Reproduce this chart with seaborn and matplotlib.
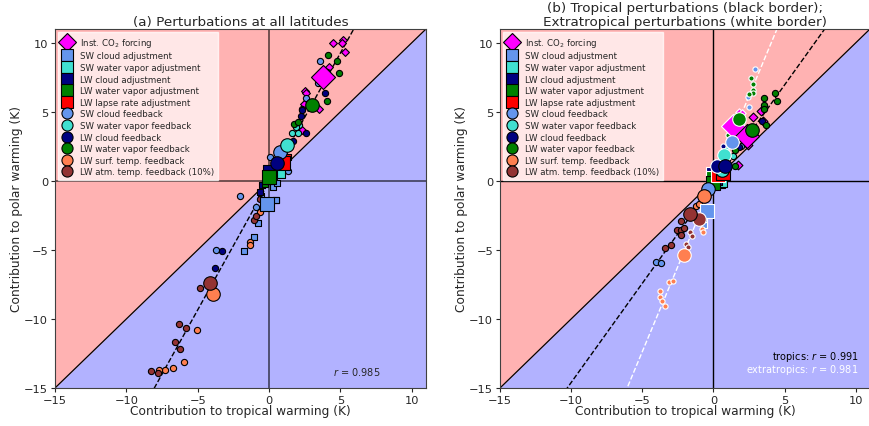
import numpy as np
import pandas as pd
import matplotlib
matplotlib.use("Agg")
import matplotlib.pyplot as plt
from matplotlib.lines import Line2D
import seaborn as sns

sns.set_style("ticks")
plt.rcParams['font.family'] = ['DejaVu Sans']

# ---------------- data ----------------
categories = ["Inst. CO$_2$ forcing", "SW cloud adjustment", "SW water vapor adjustment",
              "LW cloud adjustment", "LW water vapor adjustment", "LW lapse rate adjustment",
              "SW cloud feedback", "SW water vapor feedback", "LW cloud feedback",
              "LW water vapor feedback", "LW surf. temp. feedback", "LW atm. temp. feedback (10%)"]
colors = ["#ff00ff", "#6495ed", "#40e0d0", "#000080", "#008000", "#ff0000",
          "#6495ed", "#40e0d0", "#000080", "#008000", "#ff7f50", "#943333"]
markers = ["D", "s", "s", "s", "s", "s", "o", "o", "o", "o", "o", "o"]

# panel (a): big markers (mean) per category
a_big_x = [3.78, -0.17, 0.6, 0.09, 0.02, 0.96, 0.77, 1.25, 0.56, 3.03, -3.9, -4.13]
a_big_y = [7.49, -1.7, 0.75, 0.67, 0.31, 1.3, 2.12, 2.61, 1.3, 5.5, -8.19, -7.39]

# panel (a): individual perturbations per category
a_small_x = [
    [4.49, 5.19, 5.14, 5.30, 4.20, 2.54, 2.61, 2.42, 3.47, 2.32],
    [0.26, 0.56, 0.49, -0.75, -1.08, -1.78, -0.56, 0.51],
    [0.3, 0.8, 0.45],
    [-0.65, -0.5, 0.2],
    [-0.3, 0.1, -0.1],
    [1.06, 0.8, 1.3],
    [3.54, 3.45, 2.61, 2.30, 0.09, 1.36, -2.04, -0.92, -3.71],
    [1.6, 2.13, 2.06, 1.9],
    [3.94, 2.25, 2.32, 2.56, 1.67, -3.29, -3.8],
    [4.15, 4.74, 4.91, 4.08, 4.08, 1.78, 2.0],
    [-1.32, -1.32, -0.63, -5.07, -5.99, -6.71, -7.3, -7.68],
    [-4.84, -1.03, -0.92, -0.63, -6.34, -5.8, -6.62, -6.22, -7.8, -8.26],
]
a_small_y = [
    [9.95, 10.2, 9.95, 9.37, 8.26, 6.52, 6.33, 5.56, 5.24, 3.72],
    [-0.41, -0.14, -1.35, -3.04, -4.1, -5.05, -1.1, -1.38],
    [0.4, 0.6, 1.0],
    [-0.82, -0.3, 0.3],
    [-0.2, 0.5, 0.0],
    [1.96, 1.0, 1.7],
    [8.67, 7.1, 6.0, 5.2, 1.76, 0.75, -1.11, -1.9, -4.98],
    [3.48, 4.06, 3.5, 3.9],
    [6.4, 4.7, 5.1, 3.45, 2.87, -5.05, -6.33],
    [9.1, 8.7, 7.83, 7.92, 5.8, 4.13, 4.3],
    [-4.44, -4.64, -2.22, -10.82, -13.14, -13.58, -13.72, -13.7],
    [-7.78, -2.8, -2.56, -1.3, -10.36, -10.68, -11.7, -12.2, -13.89, -13.75],
]

# panel (b): big markers, tropical (black border) and extratropical (white border)
b_trop_big_x = [2.36, 0.3, 0.45, 0.1, -0.05, 0.65, -0.4, 0.6, 0.84, 2.68, -0.68, -1.64]
b_trop_big_y = [3.24, 0.0, 0.05, 0.2, -0.14, 0.55, -0.58, 0.8, 1.06, 3.67, -1.06, -2.39]
b_extr_big_x = [1.35, -0.47, 0.25, 0.0, 0.0, 0.3, 1.3, 0.77, 0.23, 1.77, -2.08, -1.04]
b_extr_big_y = [4.01, -2.15, 0.6, 0.5, 0.2, 0.43, 2.8, 1.91, 1.06, 4.49, -5.34, -2.75]

b_trop_small_x = [
    [3.34, 2.8, 3.48, 2.4, 1.7],
    [0.2], [0.54], [0.4], [0.1], [0.7],
    [-4.07, -3.67, 1.94],
    [1.35],
    [3.41, 2.05, 1.77],
    [3.57, 4.32, 4.48, 3.57, 3.57, 3.69, 1.54, 1.54],
    [-1.22, -1.03],
    [-2.27, -2.58, -2.25, -2.07, -2.3, -2.97, -3.44],
]
b_trop_small_y = [
    [5.05, 4.61, 4.33, 2.61, 1.16],
    [0.1], [0.02], [0.5], [0.1], [0.6],
    [-5.9, -5.94, 2.56],
    [1.83],
    [4.37, 3.04, 2.44],
    [6.01, 6.35, 5.75, 5.53, 5.17, 4.06, 2.27, 1.11],
    [-1.83, -1.67],
    [-2.87, -3.53, -3.55, -3.41, -3.91, -4.64, -4.88],
]
b_extr_small_x = [
    [1.82, 2.0],
    [-0.7, -0.65], [0.4], [0.3], [0.2], [0.5],
    [2.9, 2.45, 2.5],
    [0.9],
    [0.7],
    [2.67, 2.79, 2.8, 2.8, 2.47, 1.0],
    [-3.13, -2.85, -3.79, -3.79, -3.6, -3.44, -0.8, -0.75],
    [-1.93, -1.77, -1.64, -1.5],
]
b_extr_small_y = [
    [4.98, 4.93],
    [-2.9, -3.2], [1.2], [1.4], [0.9], [0.8],
    [8.07, 6.06, 5.38],
    [2.3],
    [2.51],
    [7.46, 7.0, 6.59, 6.33, 6.28, 3.33],
    [-7.34, -7.22, -8.0, -8.38, -8.67, -9.03, -3.48, -3.7],
    [-4.57, -4.8, -3.72, -4.0],
]

ticks = [-15, -10, -5, 0, 5, 10]
lim = (-15, 11)

# ---------------- figure ----------------
W, H = 869, 427
fig = plt.figure(figsize=(W / 100, H / 100), dpi=100)
ax1 = fig.add_axes([55 / W, 38 / H, 371 / W, 359 / H])
ax2 = fig.add_axes([500 / W, 38 / H, 370 / W, 359 / H])

SMALL_S = 20
BIG = {"D": 150, "s": 110, "o": 95}


def background(ax, zero_color, zero_alpha, zero_lw):
    xs = np.array(lim)
    ax.fill_between(xs, xs, lim[1], color="red", alpha=0.3, linewidth=0, zorder=0)
    ax.fill_between(xs, lim[0], xs, color="blue", alpha=0.3, linewidth=0, zorder=0)
    ax.plot(xs, xs, color="black", lw=0.9, zorder=1)
    ax.axhline(0, color=zero_color, alpha=zero_alpha, lw=zero_lw, zorder=1)
    ax.axvline(0, color=zero_color, alpha=zero_alpha, lw=zero_lw, zorder=1)


def fitline(ax, xs, ys, color):
    k, b = np.polyfit(xs, ys, 1)
    xx = np.array([-20.0, 20.0])
    ax.plot(xx, k * xx + b, ls="--", color=color, lw=1.0, zorder=2)


def scatter(ax, x, y, color, marker, s, edge, lw, z):
    df = pd.DataFrame({"x": x, "y": y})
    sns.scatterplot(data=df, x="x", y="y", ax=ax, color=color, marker=marker, s=s,
                    edgecolor=edge, linewidth=lw, zorder=z, legend=False)


# ----- panel (a)
background(ax1, "black", 0.55, 1.4)
allx = np.concatenate([np.array(v) for v in a_small_x])
ally = np.concatenate([np.array(v) for v in a_small_y])
fitline(ax1, allx, ally, "black")
for i in range(len(categories)):
    scatter(ax1, a_small_x[i], a_small_y[i], colors[i], markers[i], SMALL_S * (0.8 if markers[i] == "D" else 1), "black", 0.8, 3)
for i in range(len(categories)):
    scatter(ax1, [a_big_x[i]], [a_big_y[i]], colors[i], markers[i], BIG[markers[i]], "black", 0.8, 4)
ax1.text(4.5, -13.8, "$r$ = 0.985", fontsize=7, ha="left", va="center")
ax1.set_title("(a) Perturbations at all latitudes", fontsize=9.7, pad=3)

# ----- panel (b)
background(ax2, "black", 1.0, 1.0)
tx = np.concatenate([np.array(v) for v in b_trop_small_x])
ty = np.concatenate([np.array(v) for v in b_trop_small_y])
ex = np.concatenate([np.array(v) for v in b_extr_small_x])
ey = np.concatenate([np.array(v) for v in b_extr_small_y])
fitline(ax2, tx, ty, "black")
fitline(ax2, ex, ey, "white")
for i in range(len(categories)):
    scatter(ax2, b_extr_small_x[i], b_extr_small_y[i], colors[i], markers[i], 14, "white", 0.8, 3)
    scatter(ax2, b_trop_small_x[i], b_trop_small_y[i], colors[i], markers[i], SMALL_S, "black", 0.8, 3)
for i in range(len(categories)):
    scatter(ax2, [b_extr_big_x[i]], [b_extr_big_y[i]], colors[i], markers[i], BIG[markers[i]], "white", 0.8, 4)
    scatter(ax2, [b_trop_big_x[i]], [b_trop_big_y[i]], colors[i], markers[i], BIG[markers[i]], "black", 0.8, 4)
ax2.text(10.2, -12.7, "tropics: $r$ = 0.991", fontsize=7, ha="right", va="center", color="black")
ax2.text(10.2, -13.6, "extratropics: $r$ = 0.981", fontsize=7, ha="right", va="center", color="white")
ax2.set_title("(b) Tropical perturbations (black border);\nExtratropical perturbations (white border)",
              fontsize=9.7, pad=3, linespacing=1.05)

handles = [Line2D([], [], ls="none", marker=markers[i], markerfacecolor=colors[i],
                  markeredgecolor="black", markersize=(9.5 if markers[i] == "D" else 8), markeredgewidth=0.8)
           for i in range(len(categories))]

for ax in (ax1, ax2):
    ax.set_xlim(lim)
    ax.set_ylim(lim)
    ax.set_xticks(ticks)
    ax.set_yticks(ticks)
    ax.tick_params(labelsize=8.2, length=3, pad=2)
    ax.set_xlabel("Contribution to tropical warming (K)", fontsize=8.8, labelpad=-0.5)
    ax.set_ylabel("Contribution to polar warming (K)", fontsize=8.8, labelpad=1)
    for sp in ax.spines.values():
        sp.set_color("0.25")
        sp.set_visible(True)
    ax.legend(handles, categories, loc="upper left", fontsize=6.2, labelspacing=0.3,
              handletextpad=0.9, borderpad=0.4, handlelength=1.2, framealpha=0.7,
              edgecolor="white", fancybox=False, borderaxespad=0.4)

fig.savefig("out.png", dpi=100)
